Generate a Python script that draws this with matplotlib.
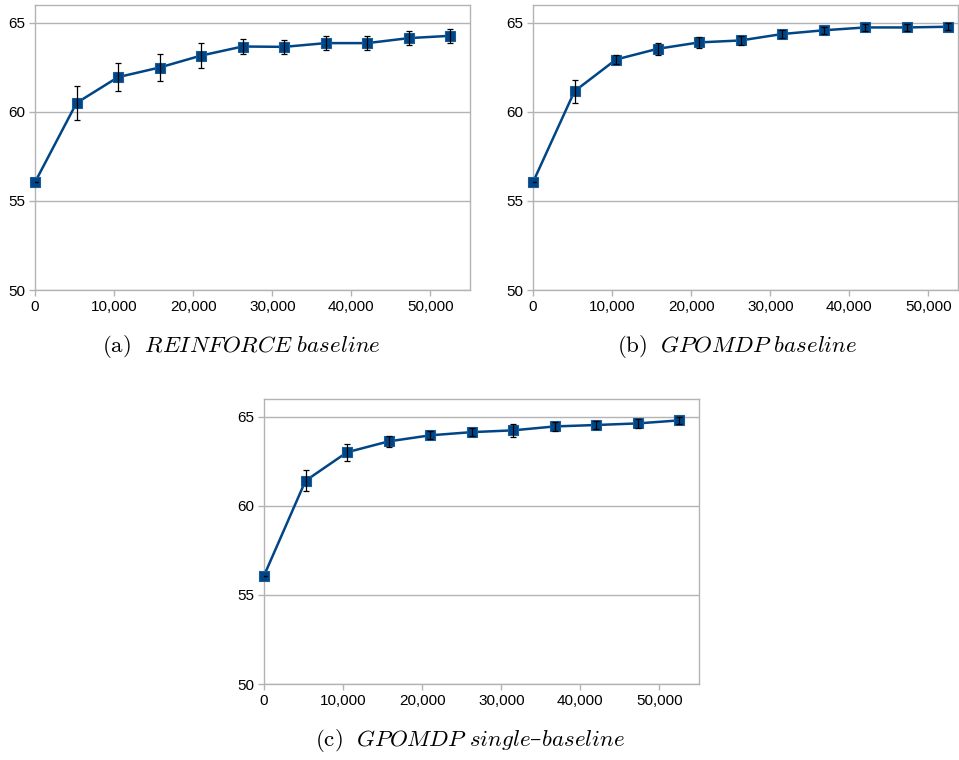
import matplotlib.pyplot as plt
from matplotlib.ticker import FuncFormatter

# data
episodes = [0, 5250, 10500, 15750, 21000, 26250, 31500, 36750, 42000, 47250, 52500]

reinforce_mean = [56.05, 60.5, 61.95, 62.49, 63.16, 63.67, 63.65, 63.86, 63.86, 64.14, 64.27]
reinforce_err = [0.0, 0.95, 0.8, 0.76, 0.69, 0.4, 0.41, 0.4, 0.41, 0.41, 0.39]

gpomdp_mean = [56.05, 61.16, 62.94, 63.54, 63.9, 64.01, 64.37, 64.58, 64.74, 64.74, 64.78]
gpomdp_err = [0.0, 0.64, 0.28, 0.33, 0.33, 0.26, 0.23, 0.2, 0.2, 0.2, 0.2]

single_mean = [56.08, 61.41, 63.01, 63.62, 63.96, 64.14, 64.24, 64.46, 64.54, 64.63, 64.8]
single_err = [0.0, 0.6, 0.48, 0.3, 0.22, 0.22, 0.37, 0.25, 0.24, 0.25, 0.19]

yticks = [50, 55, 60, 65]
xticks = [0, 10000, 20000, 30000, 40000, 50000]

captions = ["$\\mathrm{(a)}\\ \\ REINFORCE\\ baseline$",
            "$\\mathrm{(b)}\\ \\ GPOMDP\\ baseline$",
            "$\\mathrm{(c)}\\ \\ GPOMDP\\ single$\u2013$baseline$"]

plt.rcParams['mathtext.fontset'] = 'cm'

W, H = 959, 760
fig = plt.figure(figsize=(W / 100, H / 100), dpi=100)

line_col = "#004586"
grid_col = "#b3b3b3"


def panel(px_left, px_top, px_w, px_h, xmax, means, errs):
    ax = fig.add_axes([px_left / W, 1 - (px_top + px_h) / H, px_w / W, px_h / H])
    ax.plot(episodes, means, color=line_col, lw=1.8, marker='s', ms=6.5,
            mfc=line_col, mec="#1b5b97", mew=0.8, zorder=3, clip_on=False)
    ax.errorbar(episodes, means, yerr=errs, fmt='none', ecolor='black',
                elinewidth=0.9, capsize=2.5, capthick=0.9, zorder=4)
    ax.set_xlim(0, xmax)
    ax.set_ylim(50, 66)
    ax.set_yticks(yticks)
    ax.set_xticks(xticks)
    ax.xaxis.set_major_formatter(FuncFormatter(lambda v, p: f"{v:,.0f}"))
    ax.yaxis.grid(True, color=grid_col, lw=1)
    ax.set_axisbelow(True)
    for s in ax.spines.values():
        s.set_color(grid_col)
        s.set_linewidth(1)
    ax.tick_params(colors=grid_col, length=4, width=1, labelcolor='black',
                   labelsize=11, pad=3)
    for lab in ax.get_xticklabels() + ax.get_yticklabels():
        lab.set_family('Liberation Sans')
    return ax


panel(35, 5, 435, 285, 55000, reinforce_mean, reinforce_err)
panel(533, 5, 425, 285, 55000 * 425 / 435, gpomdp_mean, gpomdp_err)
panel(264, 399, 435, 285, 55000, single_mean, single_err)

cap_font = dict(family='DejaVu Serif', fontsize=16.5, ha='center', va='center')
fig.text(241 / W, 1 - 347 / H, captions[0], **cap_font)
fig.text(737 / W, 1 - 347 / H, captions[1], **cap_font)
fig.text(470 / W, 1 - 741 / H, captions[2], **cap_font)

plt.savefig("out.png", dpi=100)
